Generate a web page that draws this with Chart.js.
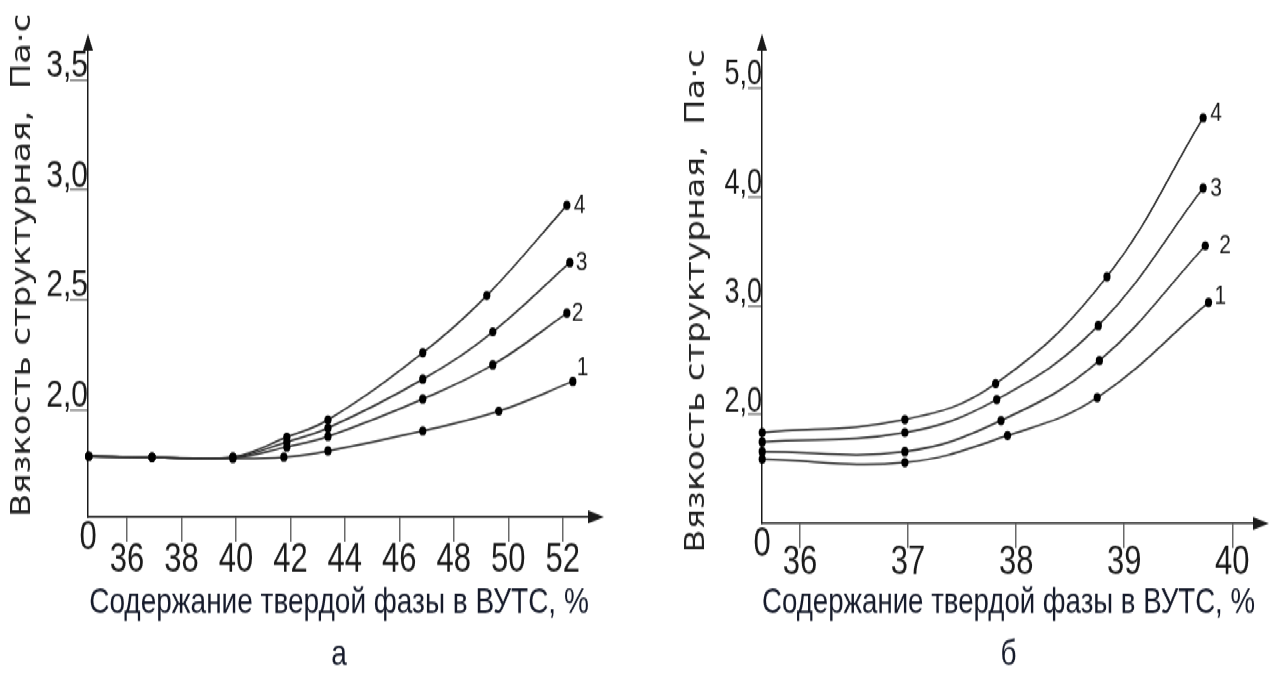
<!DOCTYPE html>
<html><head><meta charset="utf-8">
<script src="https://cdn.jsdelivr.net/npm/chart.js@4.4.1/dist/chart.umd.min.js"></script>
<style>
html,body{margin:0;padding:0;background:#fff;overflow:hidden;}
#page{position:relative;width:1277px;height:678px;overflow:hidden;}
/* the source figure is stretched vertically; reproduce that stretch */
#wrap{position:absolute;left:0;top:0;width:1277px;height:522px;transform:scaleY(1.2989);transform-origin:0 0;}
#c1{position:absolute;left:0;top:0;}
#c2{position:absolute;left:640px;top:0;}
</style></head><body>
<div id="page"><div id="wrap"><canvas id="c1" width="640" height="522"></canvas><canvas id="c2" width="637" height="522"></canvas></div></div>
<script>
// ---------- data: chart "а" ----------
const leftXTicks = [36, 38, 40, 42, 44, 46, 48, 50, 52];
const leftYTicks = [2.0, 2.5, 3.0, 3.5];
const leftX1 = [34.6, 36.92, 39.89, 41.76, 43.38, 46.86, 49.65, 52.37];
const leftY1 = [1.79, 1.785, 1.78, 1.786, 1.814, 1.905, 1.995, 2.13];
const leftX2 = [34.6, 36.92, 39.89, 41.87, 43.38, 46.86, 49.43, 52.15];
const leftY2 = [1.79, 1.785, 1.782, 1.832, 1.88, 2.05, 2.205, 2.44];
const leftX3 = [34.6, 36.92, 39.89, 41.87, 43.38, 46.86, 49.43, 52.26];
const leftY3 = [1.79, 1.785, 1.785, 1.855, 1.918, 2.14, 2.355, 2.67];
const leftX4 = [34.6, 36.92, 39.89, 41.87, 43.38, 46.86, 49.21, 52.15];
const leftY4 = [1.79, 1.785, 1.787, 1.877, 1.955, 2.26, 2.52, 2.93];
// ---------- data: chart "б" ----------
const rightXTicks = [36, 37, 38, 39, 40];
const rightYTicks = [2.0, 3.0, 4.0, 5.0];
const rightX1 = [35.65, 36.97, 37.92, 38.75, 39.78];
const rightY1 = [1.59, 1.56, 1.807, 2.156, 3.03];
const rightX2 = [35.65, 36.97, 37.86, 38.77, 39.75];
const rightY2 = [1.66, 1.66, 1.945, 2.495, 3.55];
const rightX3 = [35.65, 36.97, 37.82, 38.76, 39.73];
const rightY3 = [1.75, 1.835, 2.138, 2.817, 4.08];
const rightX4 = [35.65, 36.97, 37.81, 38.84, 39.73];
const rightY4 = [1.835, 1.954, 2.284, 3.266, 4.725];
const seriesNames = ['1', '2', '3', '4'];
const yTitle = 'Вязкость структурная,  Па·с';
const xTitle = 'Содержание твердой фазы в ВУТС, %';

function fontAvailable(name) {
  const c = document.createElement('canvas').getContext('2d');
  const s = 'mmmmmmmmmlli1WÅ36ВУТС';
  let diff = false;
  ['monospace', 'serif'].forEach(fb => {
    c.font = '40px ' + fb; const a = c.measureText(s).width;
    c.font = "40px '" + name + "', " + fb; const b = c.measureText(s).width;
    if (Math.abs(a - b) > 0.01) diff = true;
  });
  return diff;
}
const SANS = fontAvailable('Liberation Sans') ? "'Liberation Sans', Arial, sans-serif" : "Arial, sans-serif";
const TITLE_FONT = fontAvailable('DejaVu Sans') ? "'DejaVu Sans', Verdana, sans-serif" : "Verdana, sans-serif";
const INK = '#1a1a1a';

function pts(xs, ys) { return xs.map((x, i) => ({x: x, y: ys[i]})); }

const arrowPlugin = {
  id: 'axisArrows',
  afterDraw(chart) {
    const {ctx, chartArea: a} = chart;
    ctx.save();
    ctx.fillStyle = INK; ctx.strokeStyle = INK; ctx.lineWidth = 1.5;
    ctx.beginPath(); ctx.moveTo(a.left, a.top); ctx.lineTo(a.left, a.top - 4); ctx.stroke();
    ctx.beginPath(); ctx.moveTo(a.left, a.top - 12); ctx.lineTo(a.left - 5, a.top + 1); ctx.lineTo(a.left + 5, a.top + 1); ctx.closePath(); ctx.fill();
    ctx.beginPath(); ctx.moveTo(a.right, a.bottom); ctx.lineTo(a.right + 4, a.bottom); ctx.stroke();
    ctx.beginPath(); ctx.moveTo(a.right + 14, a.bottom); ctx.lineTo(a.right - 2, a.bottom - 5); ctx.lineTo(a.right - 2, a.bottom + 5); ctx.closePath(); ctx.fill();
    ctx.restore();
  }
};
const endLabelPlugin = {
  id: 'endLabels',
  afterDatasetsDraw(chart, args, opts) {
    const {ctx} = chart;
    ctx.save();
    ctx.font = opts.size + 'px ' + SANS;
    ctx.fillStyle = INK; ctx.textAlign = 'left'; ctx.textBaseline = 'middle';
    chart.data.datasets.forEach((ds, i) => {
      const meta = chart.getDatasetMeta(i);
      const p = meta.data[meta.data.length - 1];
      const off = opts.offsets[i];
      ctx.fillText(ds.label, p.x + off[0], p.y + off[1]);
    });
    ctx.restore();
  }
};

function makeChart(canvasId, o) {
  const datasets = o.series.map((s, i) => ({
    label: seriesNames[i], data: pts(s[0], s[1]),
    borderColor: '#2c2c2c', borderWidth: 1.5, tension: 0.4,
    pointRadius: 3.6, pointBackgroundColor: '#000', pointBorderColor: '#000', pointBorderWidth: 0,
    clip: false
  }));
  return new Chart(document.getElementById(canvasId), {
    type: 'line',
    data: {datasets},
    plugins: [arrowPlugin, endLabelPlugin],
    options: {
      responsive: false, animation: false, devicePixelRatio: 1,
      layout: {padding: {top: 38, right: o.padRight, left: 0, bottom: 0}},
      plugins: {
        legend: {display: false}, tooltip: {enabled: false}, title: {display: false},
        endLabels: {size: 21, offsets: o.labelOffsets}
      },
      scales: {
        x: {
          type: 'linear', min: o.xMin, max: o.xMax,
          afterBuildTicks: (sc) => { sc.ticks = [{value: o.xMin}].concat(o.xTicks.map(v => ({value: v}))); },
          afterFit: (sc) => { sc.height = o.xAxisHeight; },
          border: {display: true, color: INK, width: 1.5},
          grid: {drawOnChartArea: false, drawTicks: true, tickLength: 19,
            color: (c) => c.index === 0 ? 'rgba(0,0,0,0)' : '#6a6a6a', lineWidth: 1.5},
          ticks: {
            autoSkip: false, maxRotation: 0, padding: o.xTickPad, color: INK,
            font: (c) => ({family: SANS, size: 31, lineHeight: c.index === 0 ? o.zeroLH : 1.2}),
            callback: (v, i) => i === 0 ? '0' : String(v)
          },
          title: {display: true, text: [xTitle, o.caption], color: '#151a2a',
            font: {family: SANS, size: 28, lineHeight: 1.42},
            padding: {top: 0, bottom: -2}}
        },
        y: {
          type: 'linear', min: o.yMin, max: o.yMax,
          afterBuildTicks: (sc) => { sc.ticks = o.yTicks.map(v => ({value: v})); },
          afterFit: (sc) => { sc.width = o.yAxisWidth; },
          border: {display: true, color: INK, width: 1.5},
          grid: {drawOnChartArea: false, drawTicks: true, tickLength: o.yTickLen, color: '#8a8a8a', lineWidth: 1.6},
          ticks: {
            autoSkip: false, padding: -o.yTickLen, color: INK, labelOffset: o.yLabelOffset,
            font: {family: SANS, size: o.yFont},
            callback: (v) => v.toFixed(1).replace('.', ',')
          },
          title: {display: true, text: yTitle, color: '#222', align: o.yTitleAlign,
            font: {family: TITLE_FONT, size: 26},
            padding: {top: o.yTitlePad, bottom: 0}}
        }
      }
    }
  });
}

makeChart('c1', {
  series: [[leftX1, leftY1], [leftX2, leftY2], [leftX3, leftY3], [leftX4, leftY4]],
  xTicks: leftXTicks, yTicks: leftYTicks,
  xMin: 34.57, xMax: 53.0, yMin: 1.514, yMax: 3.639,
  padRight: 50, xAxisHeight: 124, yAxisWidth: 88,
  xTickPad: -4.3, zeroLH: 0.12,
  yTickLen: 18, yLabelOffset: -11, yFont: 30,
  yTitleAlign: 'start', yTitlePad: 8,
  caption: 'а',
  labelOffsets: [[4, -10], [5, 0], [6, 0], [7, 0]]
});
makeChart('c2', {
  series: [[rightX1, rightY1], [rightX2, rightY2], [rightX3, rightY3], [rightX4, rightY4]],
  xTicks: rightXTicks, yTicks: rightYTicks,
  xMin: 35.648, xMax: 40.21, yMin: 1.0, yMax: 5.354,
  padRight: 22, xAxisHeight: 119, yAxisWidth: 122,
  xTickPad: -6.8, zeroLH: 0.3,
  yTickLen: 14, yLabelOffset: -10, yFont: 27,
  yTitleAlign: 'end', yTitlePad: 42,
  caption: 'б',
  labelOffsets: [[6, -5], [14, 0], [7, 0], [7, -4]]
});
</script>
</body></html>
